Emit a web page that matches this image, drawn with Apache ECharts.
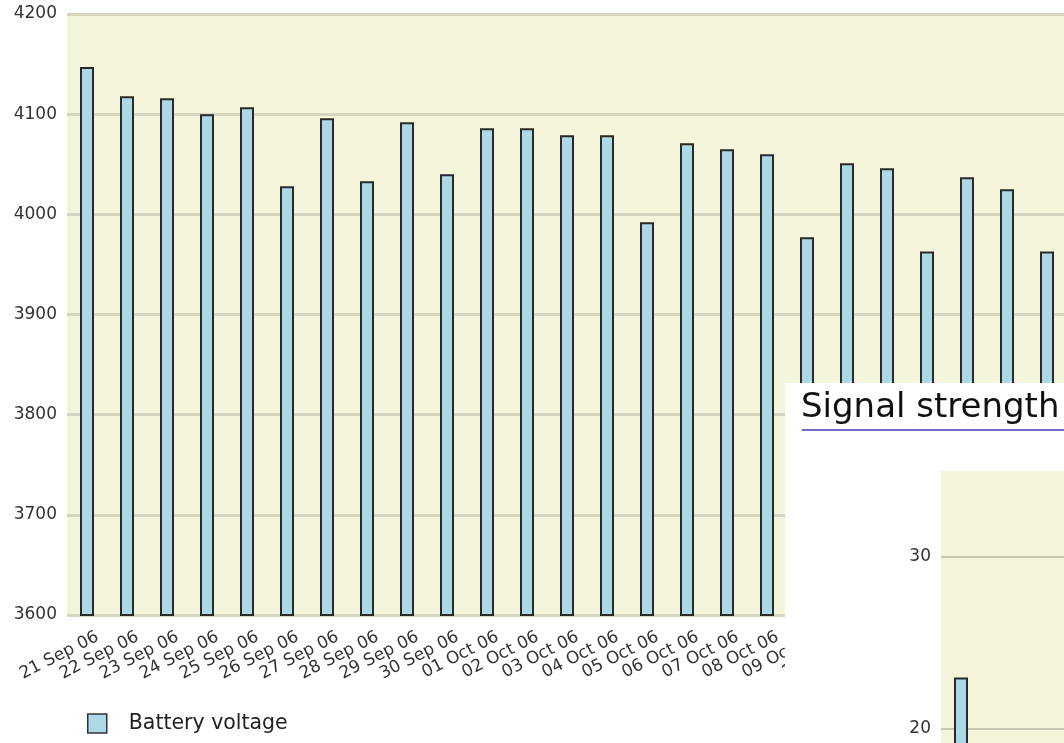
<!DOCTYPE html>
<html>
<head>
<meta charset="utf-8">
<script src="https://cdn.jsdelivr.net/npm/echarts@6/dist/echarts.min.js"></script>
<style>
html,body{margin:0;padding:0;background:#fff;}
#c{width:1064px;height:743px;}
</style>
</head>
<body>
<div id="c"></div>
<script>
const dates = ["21 Sep 06","22 Sep 06","23 Sep 06","24 Sep 06","25 Sep 06","26 Sep 06","27 Sep 06","28 Sep 06","29 Sep 06","30 Sep 06","01 Oct 06","02 Oct 06","03 Oct 06","04 Oct 06","05 Oct 06","06 Oct 06","07 Oct 06","08 Oct 06","09 Oct 06","10 Oct 06","11 Oct 06","12 Oct 06","13 Oct 06","14 Oct 06","15 Oct 06"];
const batteryVoltage = [4147,4118,4116,4100,4107,4028,4096,4033,4092,4040,4086,4086,4079,4079,3992,4071,4065,4060,3977,4051,4046,3963,4037,4025,3963];
const signalDates = dates;
const signalStrength = [23,null,null,null,null,null,null,null,null,null,null,null,null,null,null,null,null,null,null,null,null,null,null,null,null];
const voltageTicks = {min:3600, max:4200, interval:100};
const signalTicks = {min:0, max:35, interval:10};

const chart = echarts.init(document.getElementById('c'), null, {renderer:'canvas'});
const FONT = 'DejaVu Sans';
const plain = v => String(v);
const option = {
  animation:false,
  backgroundColor:'#ffffff',
  title:{
    text:'Signal strength', left:801, top:391, z:20, padding:0,
    textStyle:{fontFamily:'DejaVu Sans', fontSize:34, fontWeight:'normal', color:'#111'}
  },
  legend:{
    left:87, top:713, itemWidth:19, itemHeight:19, padding:0,
    data:[{name:'Battery voltage', icon:'rect'}],
    itemStyle:{color:'#add8e6', borderColor:'#333', borderWidth:1.5},
    textStyle:{fontFamily:FONT, fontSize:20.5, color:'#222', padding:[3,0,0,17]}
  },
  grid:[
    {left:67, top:14, width:1000, height:601, show:true, backgroundColor:'#f5f5dc', borderWidth:0, outerBoundsMode:'none', containLabel:false},
    {left:941, top:471, width:1000, height:602, show:true, backgroundColor:'#f5f5dc', borderWidth:0, outerBoundsMode:'none', containLabel:false, z:15}
  ],
  xAxis:[
    {type:'category', gridIndex:0, data:dates, axisLine:{show:false}, axisTick:{show:false},
     axisLabel:{rotate:27, interval:0, margin:0, align:'right', verticalAlign:'top', padding:[15,0,0,0],
                fontFamily:FONT, fontSize:17, color:'#333'}},
    {type:'category', gridIndex:1, data:signalDates, axisLine:{show:false}, axisTick:{show:false},
     axisLabel:{show:false}, z:15}
  ],
  yAxis:[
    {type:'value', gridIndex:0, min:voltageTicks.min, max:voltageTicks.max, interval:voltageTicks.interval,
     axisLine:{show:false}, axisTick:{show:false},
     axisLabel:{margin:10, fontFamily:FONT, fontSize:17, color:'#333', formatter:plain, padding:[4,0,0,0]},
     splitLine:{lineStyle:{color:'#d6d6c0', width:3}}},
    {type:'value', gridIndex:1, min:signalTicks.min, max:signalTicks.max, interval:signalTicks.interval,
     axisLine:{show:false}, axisTick:{show:false}, z:15,
     axisLabel:{margin:10, fontFamily:FONT, fontSize:17, color:'#333', showMaxLabel:false, formatter:plain, padding:[4,0,0,0]},
     splitLine:{showMaxLine:false, lineStyle:{color:'#b8b8a8', width:1.5}}}
  ],
  graphic:[
    {type:'rect', z:10, shape:{x:785, y:383, width:400, height:400}, style:{fill:'#ffffff'}},
    {type:'line', z:20, shape:{x1:802, y1:430, x2:1100, y2:430}, style:{stroke:'#6a6ac0', lineWidth:2}}
  ],
  series:[
    {name:'Battery voltage', type:'bar', xAxisIndex:0, yAxisIndex:0, data:batteryVoltage, barWidth:14,
     itemStyle:{color:'#add8e6', borderColor:'#2a2a2a', borderWidth:2}},
    {name:'Signal strength', type:'bar', xAxisIndex:1, yAxisIndex:1, data:signalStrength, barWidth:14, z:16,
     itemStyle:{color:'#add8e6', borderColor:'#2a2a2a', borderWidth:2}}
  ]
};
chart.setOption(option);
</script>
</body>
</html>
